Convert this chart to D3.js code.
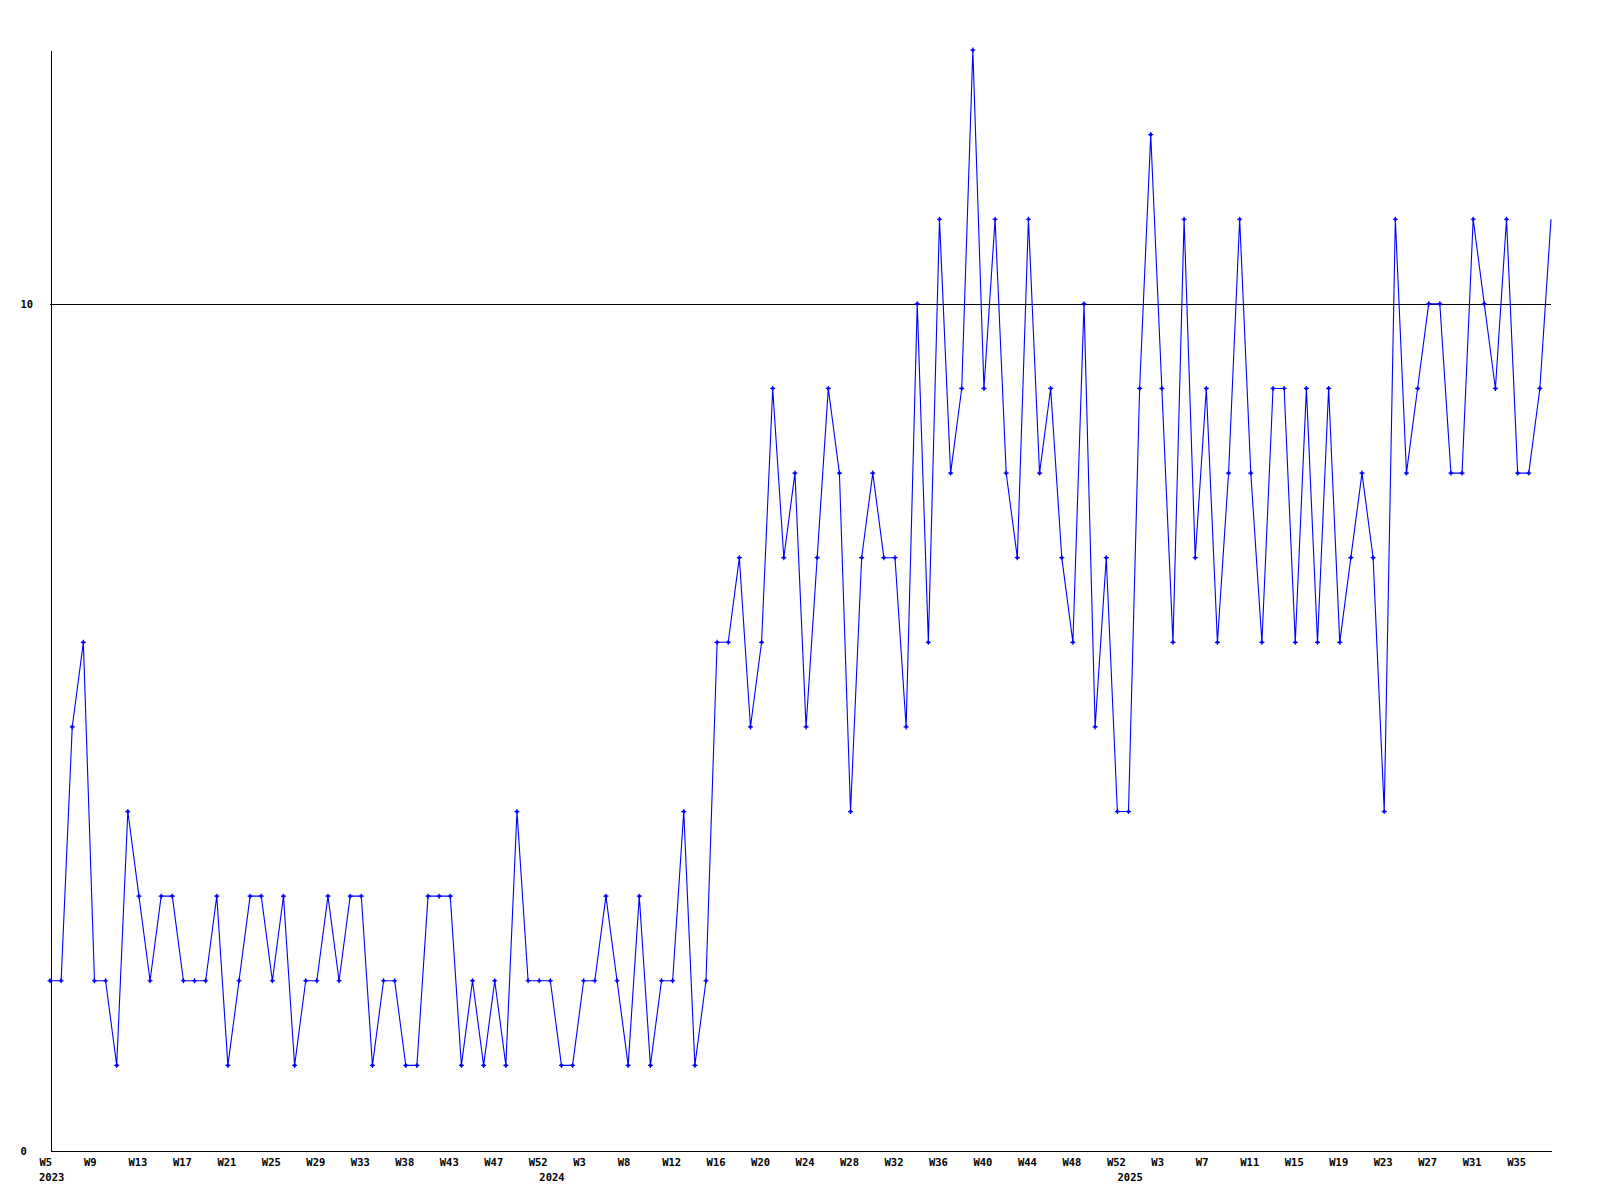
<!DOCTYPE html>
<html>
<head>
<meta charset="utf-8">
<script src="https://cdn.jsdelivr.net/npm/d3@7/dist/d3.min.js"></script>
<style>
  html, body { margin: 0; padding: 0; background: #ffffff; }
  svg { display: block; }
  text { font-family: "DejaVu Sans Mono", "Liberation Mono", monospace; font-weight: bold; font-size: 10.5px; fill: #000; }
</style>
</head>
<body>
<svg id="chart" width="1600" height="1200"></svg>
<script>
// ---- data ----
const values = [
  2, 2, 5, 6, 2, 2, 1, 4, 3, 2,
  3, 3, 2, 2, 2, 3, 1, 2, 3, 3,
  2, 3, 1, 2, 2, 3, 2, 3, 3, 1,
  2, 2, 1, 1, 3, 3, 3, 1, 2, 1,
  2, 1, 4, 2, 2, 2, 1, 1, 2, 2,
  3, 2, 1, 3, 1, 2, 2, 4, 1, 2,
  6, 6, 7, 5, 6, 9, 7, 8, 5, 7,
  9, 8, 4, 7, 8, 7, 7, 5, 10, 6,
  11, 8, 9, 13, 9, 11, 8, 7, 11, 8,
  9, 7, 6, 10, 5, 7, 4, 4, 9, 12,
  9, 6, 11, 7, 9, 6, 8, 11, 8, 6,
  9, 9, 6, 9, 6, 9, 6, 7, 8, 7,
  4, 11, 8, 9, 10, 10, 8, 8, 11, 10,
  9, 11, 8, 8, 9, 11
];
// week labels shown on every 4th point
const weekTicks = [
  "W5", "W9", "W13", "W17", "W21", "W25", "W29", "W33", "W38", "W43", "W47", "W52",
  "W3", "W8", "W12", "W16", "W20", "W24", "W28", "W32", "W36", "W40", "W44", "W48", "W52",
  "W3", "W7", "W11", "W15", "W19", "W23", "W27", "W31", "W35"
];
// year labels: point index where each year starts
const yearStarts = [0, 45, 97];
const yearLabels = ["2023", "2024", "2025"];
const yTicks = [0, 10];
const refLine = 10;

// ---- layout ----
const svg = d3.select("#chart");
const mLeft = 50, mRight = 1551, mTop = 50, mBottom = 1150;

const idx = d3.range(values.length);
const x = d3.scalePoint().domain(idx).range([mLeft, mRight]);
const y = d3.scaleLinear().domain([0, 13]).range([mBottom, mTop]);

// reference line at 10
svg.append("line")
  .attr("x1", mLeft).attr("x2", mRight)
  .attr("y1", Math.round(y(refLine)) + 0.5).attr("y2", Math.round(y(refLine)) + 0.5)
  .attr("stroke", "#000").attr("stroke-width", 1).attr("shape-rendering", "crispEdges");

// x axis
const tickIdx = idx.filter(i => i % 4 === 0);
const xAxis = d3.axisBottom(x)
  .tickValues(tickIdx)
  .tickSize(0).tickSizeOuter(0)
  .tickFormat(i => weekTicks[i / 4] || "");
const gx = svg.append("g")
  .attr("transform", `translate(0,${mBottom + 0.5})`)
  .call(xAxis);
gx.attr("font-family", null).attr("font-size", null);
gx.select(".domain").attr("stroke", "#000").attr("shape-rendering", "crispEdges");
gx.selectAll(".tick text")
  .attr("text-anchor", "start")
  .attr("x", -11)
  .attr("y", 15.5)
  .attr("dy", null)
  .attr("fill", "#000");

// year labels
svg.append("g").selectAll("text")
  .data(yearStarts)
  .join("text")
  .attr("x", (d) => x(d) - 11)
  .attr("y", mBottom + 31)
  .text((d, i) => yearLabels[i]);

// y axis
const yAxis = d3.axisLeft(y).tickValues(yTicks).tickSize(0).tickSizeOuter(0).tickFormat(d3.format("d"));
const gy = svg.append("g")
  .attr("transform", `translate(${mLeft + 0.5},0)`)
  .call(yAxis);
gy.attr("font-family", null).attr("font-size", null);
gy.select(".domain").attr("stroke", "#000").attr("shape-rendering", "crispEdges");
gy.selectAll(".tick text")
  .attr("text-anchor", "start")
  .attr("x", -30)
  .attr("dy", "0.38em")
  .attr("fill", "#000");

// data line
const line = d3.line().x((d, i) => x(i)).y(d => y(d));
svg.append("path")
  .datum(values)
  .attr("d", line)
  .attr("fill", "none")
  .attr("stroke", "#0000ff")
  .attr("stroke-width", 1.1);

// markers (every point except the last)
const marker = "M-2.5,-0.6h5v1.2h-5z M-0.6,-2.5h1.2v5h-1.2z M-1.3,-1.3h2.6v2.6h-2.6z";
svg.append("g").selectAll("path")
  .data(values.slice(0, -1))
  .join("path")
  .attr("transform", (d, i) => `translate(${x(i)},${y(d)})`)
  .attr("d", marker)
  .attr("fill", "#0000ff");
</script>
</body>
</html>
